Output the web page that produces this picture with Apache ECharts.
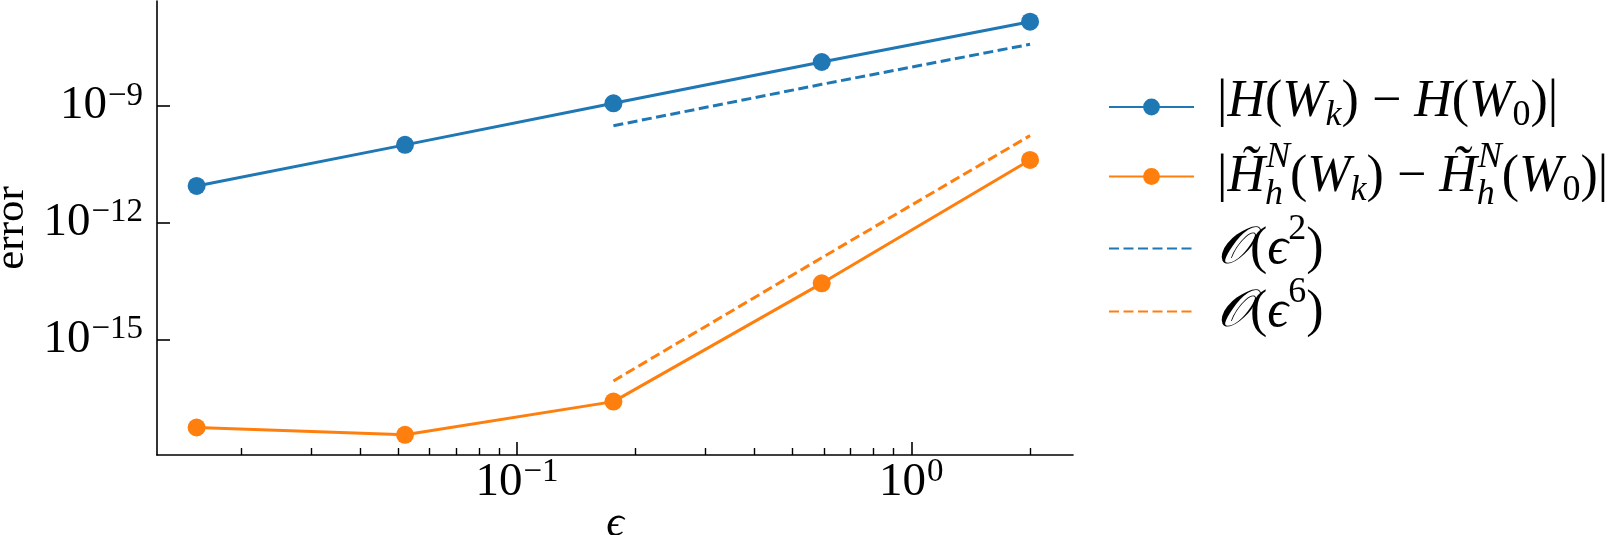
<!DOCTYPE html>
<html>
<head>
<meta charset="utf-8">
<script src="https://cdn.jsdelivr.net/npm/echarts@6/dist/echarts.min.js"></script>
<style>
  html, body { margin: 0; padding: 0; background: #fff; }
  #chart { width: 1616px; height: 535px; }
</style>
</head>
<body>
<div id="chart"></div>
<script>
  // values
  var eps = [0.0154, 0.052, 0.1756, 0.5926, 2.0];
  var errH = [8.8e-12, 1.0e-10, 1.17e-9, 1.35e-8, 1.47e-7];
  var errHh = [5.4e-18, 3.5e-18, 2.5e-17, 2.75e-14, 4.1e-11];
  var epsRef = [0.1756, 0.5926, 2.0];
  var ref2 = [3.1e-10, 3.6e-9, 3.85e-8];
  var ref6 = [8.5e-17, 1.25e-13, 1.73e-10];

  var xMajor = [0.1, 1];
  var xMinor = [0.02, 0.03, 0.04, 0.05, 0.06, 0.07, 0.08, 0.09,
                0.2, 0.3, 0.4, 0.5, 0.6, 0.7, 0.8, 0.9, 2];
  var yMajor = [1e-15, 1e-12, 1e-9];

  var F = "'Liberation Serif', 'DejaVu Serif', serif";
  var BLUE = '#1f77b4', ORANGE = '#ff7f0e';

  function zip(a, b) {
    return a.map(function (v, i) { return [v, b[i]]; });
  }

  function powLabel(v) {
    var e = Math.round(Math.log10(v));
    return '{b|10}{s|' + (e < 0 ? '\u2212' : '') + Math.abs(e) + '}';
  }
  var tickRich = {
    b: { fontFamily: F, fontSize: 47, lineHeight: 47, verticalAlign: 'bottom', color: '#000' },
    s: { fontFamily: F, fontSize: 33, lineHeight: 33, verticalAlign: 'bottom', padding: [0, 0, 17, 1], color: '#000' }
  };

  var legendText = {
    H: '{g| }{r||}{i|H}{r|(}{i|W}{sb|k}{r|) \u2212 }{i|H}{r|(}{i|W}{su|0}{r|)|}',
    Hh: '{g| }{r||}{i|H\u0303}{sz|h}{sp|N}{r|(}{i|W}{sb|k}{r|) \u2212 }{i|H\u0303}{sz|h}{sp|N}{r|(}{i|W}{su|0}{r|)|}',
    O2: '{g| }{i|\ud835\udcaa}{r|(}{i|\u03f5}{spu|2}{r|)}',
    O6: '{g| }{i|\ud835\udcaa}{r|(}{i|\u03f5}{spu|6}{r|)}'
  };
  var legendRich = {
    g: { width: 18 },
    r: { fontFamily: F, fontSize: 52, verticalAlign: 'bottom', padding: [0, 0, 10, 0], color: '#000' },
    i: { fontFamily: F, fontSize: 52, fontStyle: 'italic', verticalAlign: 'bottom', padding: [0, 0, 10, 0], color: '#000' },
    sb: { fontFamily: F, fontSize: 36, fontStyle: 'italic', verticalAlign: 'bottom', padding: [0, 0, 4, 0], color: '#000' },
    su: { fontFamily: F, fontSize: 36, verticalAlign: 'bottom', padding: [0, 0, 4, 0], color: '#000' },
    sz: { fontFamily: F, fontSize: 36, fontStyle: 'italic', verticalAlign: 'bottom', width: 1, color: '#000' },
    sp: { fontFamily: F, fontSize: 36, fontStyle: 'italic', verticalAlign: 'bottom', padding: [0, 0, 37, 0], color: '#000' },
    spu: { fontFamily: F, fontSize: 36, verticalAlign: 'bottom', padding: [0, 0, 37, 0], color: '#000' }
  };

  var rowTops = [76, 140, 212, 275];
  var names = ['H', 'Hh', 'O2', 'O6'];

  function legendFor(k) {
    var lg = {
      data: [names[k]],
      left: 1108,
      top: rowTops[k],
      itemWidth: 85,
      itemHeight: 21,
      padding: 0,
      textStyle: { rich: legendRich },
      formatter: function (n) { return legendText[n]; }
    };
    if (k > 1) lg.itemStyle = { opacity: 0 };
    return lg;
  }

  var chart = echarts.init(document.getElementById('chart'));
  chart.setOption({
    animation: false,
    backgroundColor: '#fff',
    grid: { left: 157, right: 543, top: 1, bottom: 80, outerBoundsMode: 'none' },
    legend: [legendFor(0), legendFor(1), legendFor(2), legendFor(3)],
    xAxis: [
      {
        type: 'log', logBase: 10, min: 0.01222, max: 2.57,
        name: '\u03f5', nameLocation: 'middle', nameGap: 47, nameMoveOverlap: false,
        nameTextStyle: { fontFamily: F, fontSize: 44, fontStyle: 'italic', color: '#000' },
        axisLine: { show: true, lineStyle: { color: '#000', width: 1.6 } },
        axisTick: { show: true, inside: true, length: 13, customValues: xMajor, lineStyle: { color: '#000', width: 1.6 } },
        axisLabel: { customValues: xMajor, formatter: powLabel, rich: tickRich, margin: 4 },
        splitLine: { show: false }, minorTick: { show: false }
      },
      {
        type: 'log', logBase: 10, min: 0.01222, max: 2.57, position: 'bottom',
        axisLine: { show: false },
        axisTick: { show: true, inside: true, length: 7, customValues: xMinor, lineStyle: { color: '#000', width: 1.4 } },
        axisLabel: { show: false },
        splitLine: { show: false }
      }
    ],
    yAxis: {
      type: 'log', logBase: 10, min: 1.06e-18, max: 5.0e-7,
      name: 'error', nameLocation: 'middle', nameGap: 124, nameRotate: 90, nameMoveOverlap: false,
      nameTextStyle: { fontFamily: F, fontSize: 43, color: '#000' },
      axisLine: { show: true, lineStyle: { color: '#000', width: 1.6 } },
      axisTick: { show: true, inside: true, length: 13, customValues: yMajor, lineStyle: { color: '#000', width: 1.6 } },
      axisLabel: { customValues: yMajor, formatter: powLabel, rich: tickRich, margin: 14 },
      splitLine: { show: false }
    },
    series: [
      {
        name: 'H', type: 'line', data: zip(eps, errH), color: BLUE,
        symbol: 'circle', symbolSize: 18, lineStyle: { width: 3 }
      },
      {
        name: 'Hh', type: 'line', data: zip(eps, errHh), color: ORANGE,
        symbol: 'circle', symbolSize: 18, lineStyle: { width: 3 }
      },
      {
        name: 'O2', type: 'line', data: zip(epsRef, ref2), color: BLUE,
        symbol: 'none', lineStyle: { width: 3, type: [10, 4.5] }
      },
      {
        name: 'O6', type: 'line', data: zip(epsRef, ref6), color: ORANGE,
        symbol: 'none', lineStyle: { width: 3, type: [10, 4.5] }
      }
    ]
  });
</script>
</body>
</html>
